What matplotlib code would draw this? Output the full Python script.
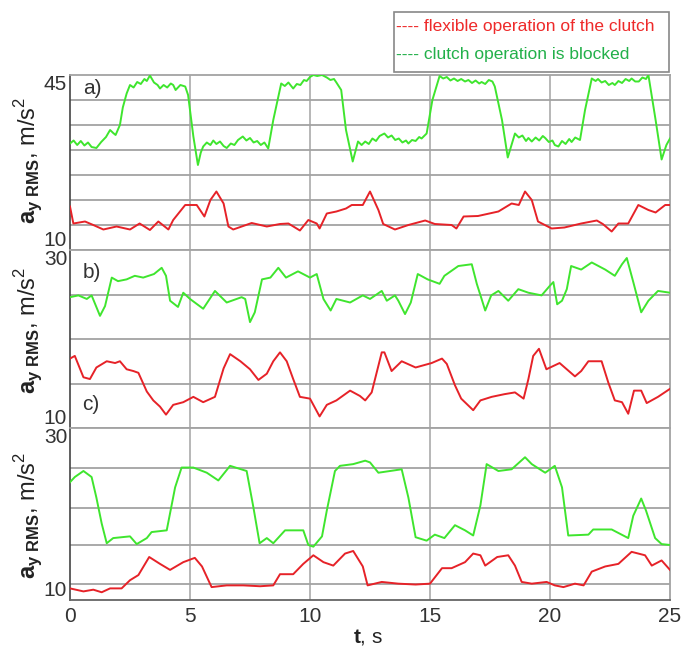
import matplotlib
matplotlib.use("Agg")
import matplotlib.pyplot as plt
from matplotlib.patches import Rectangle
from matplotlib import font_manager

names = {f.name for f in font_manager.fontManager.ttflist}
NARROW = 'Liberation Sans Narrow' if 'Liberation Sans Narrow' in names else 'Liberation Sans'

plt.rcParams['font.family'] = ['Liberation Sans', 'DejaVu Sans']
plt.rcParams['mathtext.fontset'] = 'custom'
plt.rcParams['mathtext.rm'] = 'Liberation Sans'
plt.rcParams['mathtext.bf'] = 'Liberation Sans:bold'

# ---------------- data ----------------
t_a_green = [0, 0.15, 0.3, 0.45, 0.6, 0.75, 0.9, 1.1, 1.3, 1.5, 1.67, 1.8, 1.9, 2.08, 2.2, 2.36, 2.5, 2.65,
             2.8, 2.95, 3.1, 3.2, 3.33, 3.5, 3.65, 3.75, 3.9, 4.05, 4.2, 4.3, 4.4, 4.6, 4.8, 4.92, 5.14, 5.33,
             5.45, 5.55, 5.7, 5.85, 5.97, 6.1, 6.25, 6.4, 6.53, 6.7, 6.85, 7.0, 7.2, 7.35, 7.5, 7.65, 7.8, 7.95,
             8.1, 8.26, 8.47, 8.8, 8.95, 9.1, 9.3, 9.45, 9.6, 9.75, 9.86, 10.0, 10.14, 10.3, 10.5, 10.7, 10.85,
             11.0, 11.1, 11.3, 11.5, 11.78, 12.0, 12.15, 12.3, 12.45, 12.6, 12.75, 12.9, 13.1, 13.25, 13.4, 13.55,
             13.7, 13.85, 14.0, 14.1, 14.25, 14.4, 14.55, 14.65, 14.86, 15.1, 15.4, 15.55, 15.7, 15.85, 16.0,
             16.15, 16.3, 16.46, 16.6, 16.75, 16.9, 17.05, 17.15, 17.3, 17.45, 17.6, 17.7, 18.0, 18.24, 18.54,
             18.7, 18.85, 19.0, 19.1, 19.24, 19.4, 19.55, 19.7, 19.8, 19.95, 20.1, 20.2, 20.35, 20.5, 20.65, 20.8,
             20.9, 21.05, 21.25, 21.46, 21.74, 21.9, 22.0, 22.15, 22.3, 22.45, 22.6, 22.7, 22.85, 23.0, 23.15,
             23.3, 23.4, 23.55, 23.7, 23.85, 24.0, 24.1, 24.4, 24.65, 24.85, 25.0]
ay_a_green = [31.3, 31.9, 31.0, 31.8, 30.9, 31.5, 30.6, 30.4, 31.6, 32.6, 34.0, 33.4, 33.0, 35.0, 38.5, 41.3, 43.0,
              42.5, 43.6, 43.2, 44.2, 43.8, 44.9, 43.5, 43.0, 42.3, 43.0, 42.5, 43.3, 43.0, 42.0, 43.0, 42.7, 41.0,
              32.7, 27.0, 29.5, 30.7, 31.5, 31.0, 31.9, 31.2, 31.7, 30.8, 30.4, 31.3, 31.0, 32.0, 32.7, 31.9, 32.4,
              31.5, 31.8, 31.0, 31.5, 30.3, 36.0, 43.3, 42.8, 43.5, 42.3, 43.2, 43.0, 44.0, 43.8, 44.6, 45.0, 44.8,
              45.0, 44.5, 44.0, 44.2, 43.5, 42.0, 34.0, 27.7, 31.7, 31.0, 31.7, 31.2, 32.3, 31.8, 32.8, 33.3, 32.5,
              32.9, 32.0, 32.3, 31.5, 31.9, 31.3, 32.0, 31.8, 32.6, 32.3, 33.3, 40.0, 44.8, 44.3, 44.6, 43.9, 44.3,
              43.8, 44.2, 43.7, 44.0, 43.4, 43.9, 43.3, 43.6, 43.2, 44.0, 43.7, 42.7, 36.0, 28.5, 33.3, 32.5, 32.9,
              31.8, 32.4, 31.7, 32.5, 31.9, 32.8, 32.4, 31.6, 31.9, 31.0, 30.7, 31.8, 31.2, 32.2, 31.6, 32.5, 32.0,
              38.0, 44.3, 43.8, 44.2, 43.5, 43.8, 43.0, 43.4, 43.0, 43.8, 43.4, 44.2, 43.8, 44.3, 43.7, 43.7, 44.5,
              44.2, 45.0, 36.0, 28.1, 31.0, 32.3]

t_a_red = [0, 0.14, 0.625, 0.97, 1.39, 1.94, 2.5, 2.9, 3.33, 3.68, 4.1, 4.3, 4.8, 5.28, 5.6, 5.85, 6.1, 6.4, 6.6,
           6.8, 7.57, 8.2, 8.75, 9.1, 9.58, 9.93, 10.28, 10.4, 10.7, 11.1, 11.5, 11.74, 12.2, 12.5, 12.85, 13.05,
           13.54, 14.1, 14.8, 15.2, 15.9, 16.1, 16.4, 17.0, 17.85, 18.4, 18.7, 18.96, 19.24, 19.5, 20.07, 20.6,
           21.3, 21.95, 22.2, 22.57, 22.85, 23.26, 23.68, 24.1, 24.4, 24.8, 25.0]
ay_a_red = [18.7, 15.3, 15.7, 15.0, 14.1, 14.7, 14.1, 15.3, 14.0, 15.7, 14.1, 16.0, 19.0, 19.0, 16.7, 20.0, 21.7,
            19.3, 14.7, 14.1, 15.4, 14.7, 15.2, 15.3, 13.9, 16.0, 15.3, 14.3, 17.3, 17.7, 18.3, 19.0, 19.0, 21.7,
            18.0, 15.2, 14.1, 15.0, 15.9, 15.2, 15.0, 14.3, 16.7, 16.8, 17.7, 19.3, 19.0, 21.7, 20.0, 15.7, 14.3,
            14.5, 15.3, 15.9, 15.2, 13.7, 15.3, 15.3, 19.0, 18.0, 17.5, 19.0, 19.0]

t_b_green = [0, 0.35, 0.7, 0.9, 1.25, 1.46, 1.74, 2.0, 2.36, 2.7, 3.05, 3.5, 3.82, 4.0, 4.17, 4.5, 4.72, 5.0, 5.55,
             6.04, 6.53, 7.15, 7.3, 7.5, 7.7, 8.0, 8.35, 8.68, 9.0, 9.5, 10.0, 10.28, 10.56, 10.86, 11.1, 11.67,
             12.2, 12.5, 12.99, 13.2, 13.54, 13.68, 13.96, 14.2, 14.49, 14.9, 15.4, 15.6, 16.18, 16.74, 16.95,
             17.15, 17.3, 17.55, 17.85, 18.26, 18.68, 19.1, 19.65, 20.0, 20.14, 20.3, 20.5, 20.7, 20.88, 21.3,
             21.74, 22.3, 22.7, 23.0, 23.2, 23.47, 23.8, 24.1, 24.5, 25.0]
ay_b_green = [24.7, 24.9, 24.5, 24.9, 22.6, 23.7, 26.9, 26.5, 26.7, 27.1, 26.9, 27.3, 28.0, 27.1, 24.3, 23.6, 25.2,
              24.5, 23.4, 25.4, 24.1, 24.7, 24.5, 21.9, 23.0, 26.7, 26.9, 28.0, 26.9, 27.6, 26.9, 27.3, 24.5, 23.2,
              24.5, 24.1, 24.9, 24.5, 25.4, 24.3, 24.9, 24.3, 22.8, 24.1, 27.3, 26.7, 26.2, 27.1, 28.2, 28.4, 26.2,
              24.5, 23.2, 24.9, 25.4, 24.3, 25.6, 25.2, 24.9, 26.0, 26.4, 23.9, 24.3, 25.6, 28.2, 27.8, 28.6, 27.8,
              27.1, 28.4, 29.1, 26.4, 23.0, 24.3, 25.4, 25.2]

t_b_red = [0, 0.2, 0.56, 0.83, 1.1, 1.53, 1.88, 2.08, 2.36, 2.64, 2.85, 3.2, 3.47, 3.75, 4.0, 4.3, 4.72, 5.14,
           5.55, 6.04, 6.4, 6.67, 7.1, 7.5, 7.85, 8.2, 8.47, 8.75, 9.03, 9.3, 9.58, 10.0, 10.4, 10.7, 11.1, 11.67,
           12.08, 12.3, 12.57, 12.99, 13.1, 13.4, 13.82, 14.4, 15.07, 15.5, 15.7, 16.04, 16.3, 16.8, 17.1, 17.57,
           18.1, 18.54, 18.9, 19.1, 19.3, 19.54, 19.85, 20.4, 21.04, 21.3, 21.6, 22.15, 22.43, 22.7, 23.0, 23.26,
           23.5, 23.8, 24.03, 24.5, 25.0]
ay_b_red = [17.8, 18.1, 15.7, 15.5, 16.8, 17.5, 17.3, 17.5, 16.6, 16.4, 16.2, 14.1, 13.1, 12.4, 11.5, 12.6, 12.9,
            13.5, 12.9, 13.5, 16.7, 18.3, 17.5, 16.6, 15.4, 16.1, 17.5, 18.5, 17.5, 15.5, 13.5, 13.3, 11.3, 12.6,
            13.1, 14.2, 13.6, 13.1, 14.0, 18.5, 18.5, 16.4, 17.5, 16.8, 17.3, 17.8, 17.2, 14.8, 13.3, 12.0, 13.1,
            13.5, 13.8, 14.0, 13.3, 15.5, 18.1, 18.9, 16.6, 17.3, 15.8, 16.4, 17.5, 17.5, 15.1, 13.1, 12.9, 11.6,
            14.2, 14.2, 12.8, 13.5, 14.4]

t_c_green = [0, 0.2, 0.56, 0.9, 1.1, 1.32, 1.53, 1.8, 2.5, 2.78, 3.2, 3.4, 4.03, 4.38, 4.65, 5.14, 5.7, 6.18,
             6.67, 7.36, 7.64, 7.9, 8.2, 8.47, 8.96, 9.72, 9.93, 10.14, 10.5, 10.7, 11.04, 11.25, 11.8, 12.3,
             12.5, 12.85, 13.82, 14.1, 14.4, 14.86, 15.2, 15.6, 16.04, 16.46, 16.8, 17.1, 17.36, 17.85, 18.4,
             18.96, 19.24, 19.8, 20.2, 20.5, 20.76, 21.6, 21.8, 22.57, 23.26, 23.47, 23.8, 24.0, 24.38, 24.65, 25.0]
ay_c_green = [23.7, 24.3, 25.0, 24.3, 21.9, 18.9, 16.6, 17.2, 17.4, 16.5, 17.2, 17.9, 18.1, 23.1, 25.4, 25.4,
              24.8, 23.9, 25.6, 25.0, 20.8, 16.6, 17.2, 16.6, 18.1, 18.1, 16.4, 16.2, 17.4, 20.4, 25.0, 25.6, 25.8,
              26.2, 26.0, 24.8, 25.2, 21.9, 17.3, 16.9, 17.6, 17.2, 18.7, 18.1, 17.5, 21.0, 25.8, 25.0, 25.2, 26.6,
              25.8, 24.8, 25.6, 23.1, 17.5, 17.6, 18.2, 18.2, 17.2, 19.8, 21.8, 20.4, 17.2, 16.5, 16.4]

t_c_red = [0, 0.56, 0.97, 1.32, 1.67, 2.15, 2.5, 2.85, 3.3, 3.75, 4.17, 4.72, 5.2, 5.5, 5.9, 6.53, 7.22, 7.92,
           8.47, 8.75, 9.3, 9.72, 10.14, 10.56, 10.97, 11.46, 11.8, 12.2, 12.4, 12.99, 13.68, 14.4, 15.0, 15.5,
           15.9, 16.46, 16.8, 17.1, 17.3, 17.8, 18.26, 18.54, 18.82, 19.24, 19.86, 20.2, 20.56, 21.04, 21.4,
           21.74, 22.3, 22.85, 23.4, 23.68, 23.96, 24.24, 24.65, 25.0]
ay_c_red = [11.35, 11.0, 11.2, 10.9, 11.35, 11.35, 12.3, 12.9, 15.0, 14.2, 13.5, 14.4, 14.9, 13.9, 11.5, 11.7,
            11.7, 11.6, 11.7, 13.0, 13.0, 14.2, 15.2, 14.4, 14.0, 15.4, 15.7, 13.9, 11.7, 12.1, 11.9, 11.8, 11.9,
            13.7, 13.7, 14.4, 15.4, 15.2, 14.0, 15.0, 15.2, 14.0, 12.1, 11.9, 12.1, 11.7, 11.5, 11.9, 11.7, 13.3,
            13.9, 14.2, 15.6, 15.4, 15.2, 14.0, 14.6, 13.5]

x_ticks = [0, 5, 10, 15, 20, 25]
panel_names = ['a)', 'b)', 'c)']
legend_labels = ['---- flexible operation of the clutch', '---- clutch operation is blocked']

# ---------------- style ----------------
GREEN = '#3fe52e'
RED = '#e62228'
GRID = '#a3a3a3'
W, H = 688, 653

fig = plt.figure(figsize=(W / 100, H / 100), dpi=100)

def box(top, bottom):
    return [70 / W, (H - bottom) / H, 600 / W, (bottom - top) / H]

ax_a = fig.add_axes(box(75, 250))
ax_b = fig.add_axes(box(250, 428))
ax_c = fig.add_axes(box(428, 600))

specs = [
    (ax_a, t_a_green, ay_a_green, t_a_red, ay_a_red, (10, 45), [15, 20, 25, 30, 35, 40]),
    (ax_b, t_b_green, ay_b_green, t_b_red, ay_b_red, (10, 30), [15, 20, 25]),
    (ax_c, t_c_green, ay_c_green, t_c_red, ay_c_red, (10, 30), [11.85, 16.4, 20.75, 25.4]),
]

for ax, tg, yg, tr, yr, ylim, hgrid in specs:
    ax.set_xlim(0, 25)
    ax.set_ylim(*ylim)
    for v in hgrid:
        ax.axhline(v, color=GRID, lw=1.3, zorder=1)
    for v in x_ticks[1:-1]:
        ax.axvline(v, color=GRID, lw=1.1, zorder=1)
    ax.plot(tg, yg, color=GREEN, lw=1.4, zorder=3)
    ax.plot(tr, yr, color=RED, lw=1.4, zorder=3)
    ax.set_yticks([ylim[0], ylim[1]])
    ax.set_yticklabels([str(ylim[0]), str(ylim[1])], family=[NARROW, 'Liberation Sans'])
    labs = ax.get_yticklabels()
    labs[0].set_verticalalignment('bottom')
    labs[1].set_verticalalignment('top')
    ax.tick_params(axis='y', length=0, pad=2, labelsize=15, labelcolor='#333333')
    for s in ['top', 'right', 'bottom']:
        ax.spines[s].set_color(GRID)
        ax.spines[s].set_linewidth(1.3)
    ax.spines['left'].set_color('#444444')
    ax.spines['left'].set_linewidth(1.2)
    ax.set_xticks([])

ax_c.set_xticks(x_ticks)
ax_c.set_xticklabels([str(v) for v in x_ticks], family=[NARROW, 'Liberation Sans'])
ax_c.tick_params(axis='x', length=0, pad=5, labelsize=15, labelcolor='#333333')
ax_c.spines['bottom'].set_color('#666666')

# panel letters
for (px, py), name in zip([(83, 88), (83, 272), (82, 405)], panel_names):
    fig.text(px / W, 1 - py / H, name, fontsize=15, color='#333333', va='center', ha='left',
             family=[NARROW, 'Liberation Sans'])

# y labels
ylab = r'$\mathbf{a}_{\mathbf{y\ RMS}}$, m/s$^2$'
for cy in [160, 330, 515]:
    fig.text(29 / W, 1 - cy / H, ylab, rotation=90, fontsize=17, color='#222222', ha='center', va='center')

# x label
fig.text(368 / W, 1 - 637 / H, r'$\mathbf{t}$, s', fontsize=15, color='#222222', ha='center', va='center')

# legend box
fig.patches.append(Rectangle((394 / W, 1 - 72 / H), 275 / W, 60 / H, transform=fig.transFigure,
                             fill=False, edgecolor='#888888', lw=1.2))
fig.text(396 / W, 1 - 27 / H, legend_labels[0], color='#ee2a2a', fontsize=14 if NARROW != 'Liberation Sans' else 12.5,
         va='center', ha='left', family=[NARROW, 'Liberation Sans'])
fig.text(396 / W, 1 - 55 / H, legend_labels[1], color='#22b04a', fontsize=14 if NARROW != 'Liberation Sans' else 12.5,
         va='center', ha='left', family=[NARROW, 'Liberation Sans'])

fig.savefig('out.png', dpi=100)
